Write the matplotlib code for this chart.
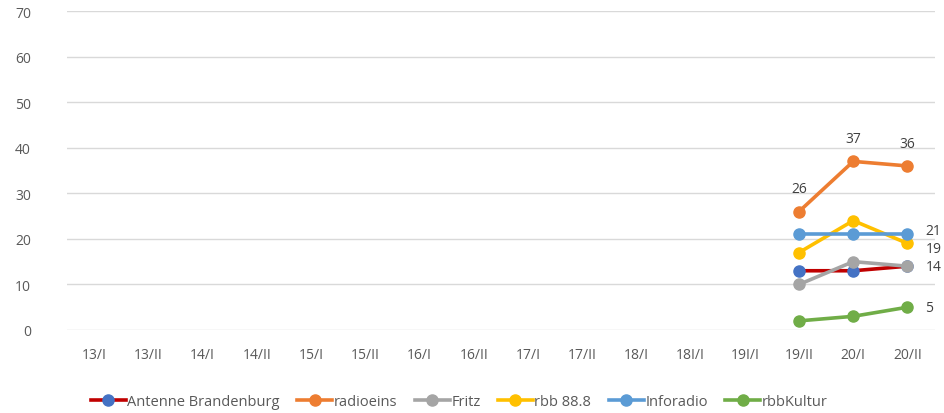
#!/usr/bin/env python3

import matplotlib.pyplot as plt

categories = ["13/I", "13/II", "14/I", "14/II", "15/I", "15/II", "16/I", "16/II",
              "17/I", "17/II", "18/I", "18I/I", "19I/I", "19/II", "20/I", "20/II"]

# only the last three periods have values
antenne = [None] * 13 + [13, 13, 14]
radioeins = [None] * 13 + [26, 37, 36]
fritz = [None] * 13 + [10, 15, 14]
rbb888 = [None] * 13 + [17, 24, 19]
inforadio = [None] * 13 + [21, 21, 21]
kultur = [None] * 13 + [2, 3, 5]

series = [
    ("Antenne Brandenburg", antenne, "#C00000", "#4472C4"),
    ("radioeins", radioeins, "#ED7D31", "#ED7D31"),
    ("Fritz", fritz, "#A5A5A5", "#A5A5A5"),
    ("rbb 88.8", rbb888, "#FFC000", "#FFC000"),
    ("Inforadio", inforadio, "#5B9BD5", "#5B9BD5"),
    ("rbbKultur", kultur, "#70AD47", "#70AD47"),
]

plt.rcParams["font.family"] = ["Open Sans", "DejaVu Sans"]

fig = plt.figure(figsize=(9.45, 4.14), dpi=100)
ax = fig.add_axes([0.071, 0.2005, 0.918, 0.7705])

x = list(range(len(categories)))
for name, vals, lc, mc in series:
    xs = [i for i, v in zip(x, vals) if v is not None]
    ys = [v for v in vals if v is not None]
    ax.plot(xs, ys, color=lc, lw=2.6, marker="o", ms=8,
            markerfacecolor=mc, markeredgecolor=mc, label=name, zorder=3)

txt = dict(fontsize=10, color="#404040")
# labels above radioeins points
for i in range(13, 16):
    ax.annotate(str(radioeins[i]), (i, radioeins[i]), xytext=(0, 11),
                textcoords="offset points", ha="center", va="bottom", **txt)
# labels to the right of last points (21 and 19 nudged apart a little)
for vals, dy in ((inforadio, 3), (rbb888, -4), (fritz, 0), (kultur, 0)):
    ax.annotate(str(vals[15]), (15, vals[15]), xytext=(13, dy),
                textcoords="offset points", ha="left", va="center", **txt)

ax.set_xlim(-0.5, 15.5)
ax.set_ylim(0, 70)
ax.set_yticks(range(0, 71, 10))
ax.set_xticks(x)
ax.set_xticklabels(categories)
ax.tick_params(length=0, labelsize=10, labelcolor="#595959", pad=12)
ax.tick_params(axis="y", pad=26)
ax.grid(axis="y", color="#D9D9D9", lw=1)
ax.set_axisbelow(True)
for s in ax.spines.values():
    s.set_visible(False)

ax.legend(loc="lower center", bbox_to_anchor=(0.452, -0.29), ncol=6, frameon=False,
          fontsize=10.5, labelcolor="#595959", handlelength=2.4, handletextpad=0.1,
          columnspacing=1.2)

plt.savefig("out.png", dpi=100)
